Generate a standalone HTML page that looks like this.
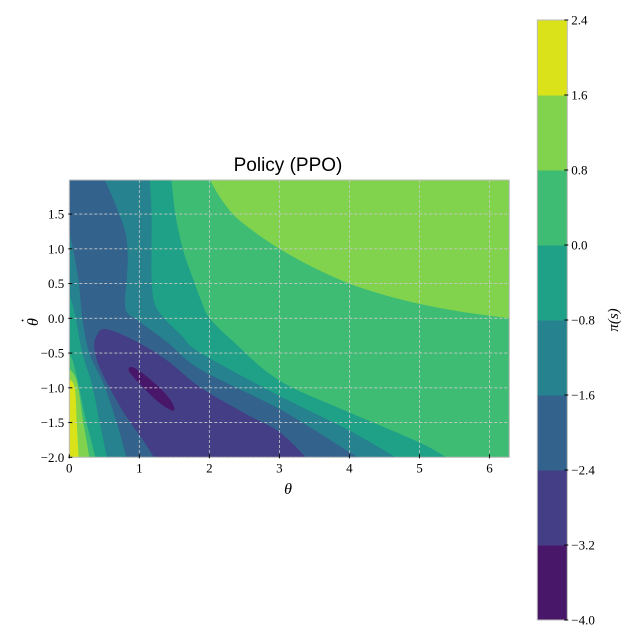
<!DOCTYPE html>
<html><head><meta charset="utf-8">
<style>
html,body{margin:0;padding:0;background:#fff;}
svg{display:block;}
text{font-family:"Liberation Serif","DejaVu Serif",serif;fill:#000;}
</style></head>
<body>
<svg id="chart" width="640" height="640" viewBox="0 0 640 640">
  <text x="288" y="171" text-anchor="middle" font-size="19" style="font-family:'Liberation Sans','DejaVu Sans',sans-serif">Policy (PPO)</text>
  <g id="plot"></g>
  <g id="axes"></g>
  <g id="cbar"></g>
  <text x="288" y="494" text-anchor="middle" font-size="16" font-style="italic">θ</text>
  <g transform="rotate(-90 38 322)">
    <text x="38" y="322" text-anchor="middle" font-size="16" font-style="italic">θ</text>
    <text x="39.5" y="312" text-anchor="middle" font-size="16">·</text>
  </g>
  <text x="618" y="320" text-anchor="middle" font-size="15" font-style="italic" transform="rotate(-90 618 320)">π(s)</text>
</svg>
<script>
// ---- data ----
const levels = [-4.0, -3.2, -2.4, -1.6, -0.8, 0.0, 0.8, 1.6, 2.4];
const bandColors = ["#481769", "#433e85", "#33638d", "#26828e", "#1fa187", "#3fbc73", "#81d34d", "#dae319"];
const xTicks = [0, 1, 2, 3, 4, 5, 6];
const yTicks = [-2.0, -1.5, -1.0, -0.5, 0.0, 0.5, 1.0, 1.5];
const cbTickLabels = ["\u22124.0", "\u22123.2", "\u22122.4", "\u22121.6", "\u22120.8", "0.0", "0.8", "1.6", "2.4"];
// contour region boundaries in data coordinates (theta, thetaDot)
const regionHigh08 = [[1.99,2.0],[2.12,1.8],[2.34,1.5],[2.6,1.28],[3.01,1.0],[3.5,0.73],[4.01,0.5],[4.5,0.34],[5.01,0.21],[5.6,0.1],[6.283,0.0],[6.283,2.0]];
const regionBelow0 = [[0,2.0],[1.45,2.0],[1.51,1.5],[1.58,1.15],[1.65,0.88],[1.77,0.55],[1.88,0.25],[2.0,0.0],[2.34,-0.34],[3.0,-0.9],[4.0,-1.36],[5.0,-1.79],[5.44,-2.0],[0.39,-2.0],[0.24,-1.46],[0.14,-0.98],[0.05,-0.6],[0,-0.45]];
const regionBelowM08 = [[0,2.0],[1.14,2.0],[1.17,1.56],[1.17,1.0],[1.17,0.6],[1.21,0.22],[1.35,0.0],[1.6,-0.25],[1.87,-0.5],[3.0,-1.12],[4.0,-1.62],[4.72,-2.0],[0.55,-2.0],[0.43,-1.46],[0.33,-0.96],[0.19,-0.5],[0.1,-0.02],[0.05,0.2],[0,0.46]];
const regionBelowM16 = [[0,2.0],[0.48,2.0],[0.67,1.6],[0.8,1.22],[0.83,0.9],[0.82,0.6],[0.8,0.13],[1.0,-0.05],[1.4,-0.35],[1.87,-0.74],[3.0,-1.31],[4.0,-1.93],[4.2,-2.0],[0.83,-2.0],[0.67,-1.46],[0.5,-0.96],[0.29,-0.5],[0.19,0.0],[0.14,0.51],[0.05,1.03],[0,1.41]];
const regionBelowM24 = [[0.52,-0.16],[0.9,-0.31],[1.38,-0.6],[1.87,-1.0],[2.52,-1.38],[3.0,-1.64],[3.41,-2.0],[1.24,-2.0],[1.05,-1.74],[0.81,-1.4],[0.62,-1.07],[0.43,-0.69],[0.36,-0.42],[0.4,-0.24]];
const regionBelowM32 = [[0.86,-0.71],[0.95,-0.73],[1.15,-0.88],[1.38,-1.1],[1.49,-1.27],[1.46,-1.32],[1.25,-1.18],[1.0,-0.93],[0.87,-0.78]];
const regionLeft08 = [[0,-0.7],[0.1,-0.89],[0.19,-1.46],[0.29,-2.0],[0,-2.0]];
const regionLeft16 = [[0,-0.86],[0.07,-0.98],[0.1,-1.46],[0.13,-2.0],[0,-2.0]];

// ---- scales ----
const X0 = 69.3, X1 = 509.3, XMIN = 0, XMAX = 6.2832;
const YZERO = 318.3, YPU = 69.5, YTOP = 180, YBOT = 457.3;
const sx = v => X0 + (v - XMIN) / (XMAX - XMIN) * (X1 - X0);
const sy = v => YZERO - v * YPU;
const CB_TOP = 20, CB_BOT = 620, CB_X = 537.3, CB_W = 30;
const sc = v => CB_BOT - (v - levels[0]) / (levels[levels.length-1] - levels[0]) * (CB_BOT - CB_TOP);

const NS = "http://www.w3.org/2000/svg";
function mk(tag, attrs, parent) {
  const el = document.createElementNS(NS, tag);
  for (const k in attrs) el.setAttribute(k, attrs[k]);
  parent.appendChild(el);
  return el;
}
const plot = document.getElementById('plot');
const axes = document.getElementById('axes');
const cbar = document.getElementById('cbar');

mk('clipPath', {id: 'clip'}, plot);
mk('rect', {x: X0, y: YTOP, width: X1 - X0, height: YBOT - YTOP}, plot.lastChild);
const g = mk('g', {'clip-path': 'url(#clip)'}, plot);

const bg = mk('rect', {x: X0, y: YTOP - 5, width: X1 - X0, height: YBOT - YTOP + 10, fill: bandColors[5]}, g);



function onBorder(p) { return p[0] <= 0 || p[0] >= 6.28 || p[1] >= 2.0 || p[1] <= -2.0; }
function smoothPath(pts) {
  const P = pts.map(([a, b]) => {
    let px = sx(a), py = sy(b);
    if (a <= 0) px -= 3; if (a >= 6.28) px += 3;
    if (b >= 2.0) py -= 3; if (b <= -2.0) py += 3;
    return [px, py];
  });
  const n = P.length;
  let d = 'M' + P[0][0].toFixed(1) + ',' + P[0][1].toFixed(1);
  for (let i = 0; i < n; i++) {
    const i1 = (i + 1) % n;
    const b0 = onBorder(pts[i]), b1 = onBorder(pts[i1]);
    if (b0 && b1) { d += 'L' + P[i1][0].toFixed(1) + ',' + P[i1][1].toFixed(1); continue; }
    const pm = P[(i - 1 + n) % n], p0 = P[i], p1 = P[i1], p2 = P[(i + 2) % n];
    let c1 = [p0[0] + (p1[0] - pm[0]) / 6, p0[1] + (p1[1] - pm[1]) / 6];
    let c2 = [p1[0] - (p2[0] - p0[0]) / 6, p1[1] - (p2[1] - p0[1]) / 6];
    if (b0) c1 = p0;
    if (b1) c2 = p1;
    d += 'C' + c1[0].toFixed(1) + ',' + c1[1].toFixed(1) + ' ' + c2[0].toFixed(1) + ',' + c2[1].toFixed(1) + ' ' + p1[0].toFixed(1) + ',' + p1[1].toFixed(1);
  }
  return d + 'Z';
}

const regions = [
  [regionHigh08, 6, 'band-0.8-to-1.6'],
  [regionBelow0, 4, 'band-neg0.8-to-0.0'],
  [regionBelowM08, 3, 'band-neg1.6-to-neg0.8'],
  [regionBelowM16, 2, 'band-neg2.4-to-neg1.6'],
  [regionBelowM24, 1, 'band-neg3.2-to-neg2.4'],
  [regionBelowM32, 0, 'band-neg4.0-to-neg3.2'],
  [regionLeft08, 6, 'band-0.8-to-1.6-left'],
  [regionLeft16, 7, 'band-1.6-to-2.4-left']
];
regions.forEach(([pts, ci, name]) => {
  const p = mk('path', {d: smoothPath(pts), fill: bandColors[ci], stroke: bandColors[ci], 'stroke-width': 0.6}, g);
  
  
});

// grid
xTicks.forEach(t => {
  const l = mk('line', {x1: sx(t), x2: sx(t), y1: YTOP, y2: YBOT, stroke: '#c8c8c8', 'stroke-width': 0.8, 'stroke-dasharray': '3,2'}, g);
  
  
});
yTicks.forEach(t => {
  const l = mk('line', {x1: X0, x2: X1, y1: sy(t), y2: sy(t), stroke: '#c8c8c8', 'stroke-width': 0.8, 'stroke-dasharray': '3,2'}, g);
  
  
});
const frame = mk('rect', {x: X0, y: YTOP, width: X1 - X0, height: YBOT - YTOP, fill: 'none', stroke: '#bbbbbb', 'stroke-width': 1}, plot);



// ticks
xTicks.forEach(t => {
  const l = mk('line', {x1: sx(t), x2: sx(t), y1: YBOT - 3, y2: YBOT + 1, stroke: '#000', 'stroke-width': 1}, axes);
  
  
  const tx = mk('text', {x: sx(t), y: YBOT + 15, 'text-anchor': 'middle', 'font-size': 13}, axes);
  tx.textContent = String(t);
  
  
});
yTicks.forEach(t => {
  const l = mk('line', {x1: X0 - 1, x2: X0 + 3, y1: sy(t), y2: sy(t), stroke: '#000', 'stroke-width': 1}, axes);
  
  
  const tx = mk('text', {x: X0 - 5, y: sy(t) + 4.5, 'text-anchor': 'end', 'font-size': 13}, axes);
  tx.textContent = (t < 0 ? '\u2212' : '') + Math.abs(t).toFixed(1);
  
  
});

// colorbar
for (let i = 0; i < bandColors.length; i++) {
  const r = mk('rect', {x: CB_X, y: sc(levels[i+1]), width: CB_W, height: sc(levels[i]) - sc(levels[i+1]) + 0.5, fill: bandColors[i]}, cbar);
  
  
}
const cbf = mk('rect', {x: CB_X, y: CB_TOP, width: CB_W, height: CB_BOT - CB_TOP, fill: 'none', stroke: '#bbbbbb', 'stroke-width': 1}, cbar);


levels.forEach((v, i) => {
  const l = mk('line', {x1: CB_X + CB_W - 3, x2: CB_X + CB_W + 1, y1: sc(v), y2: sc(v), stroke: '#000', 'stroke-width': 1}, cbar);
  
  
  const tx = mk('text', {x: CB_X + CB_W + 4, y: sc(v) + 4.5, 'font-size': 13}, cbar);
  tx.textContent = cbTickLabels[i];
  
  
});
</script>
</body></html>
